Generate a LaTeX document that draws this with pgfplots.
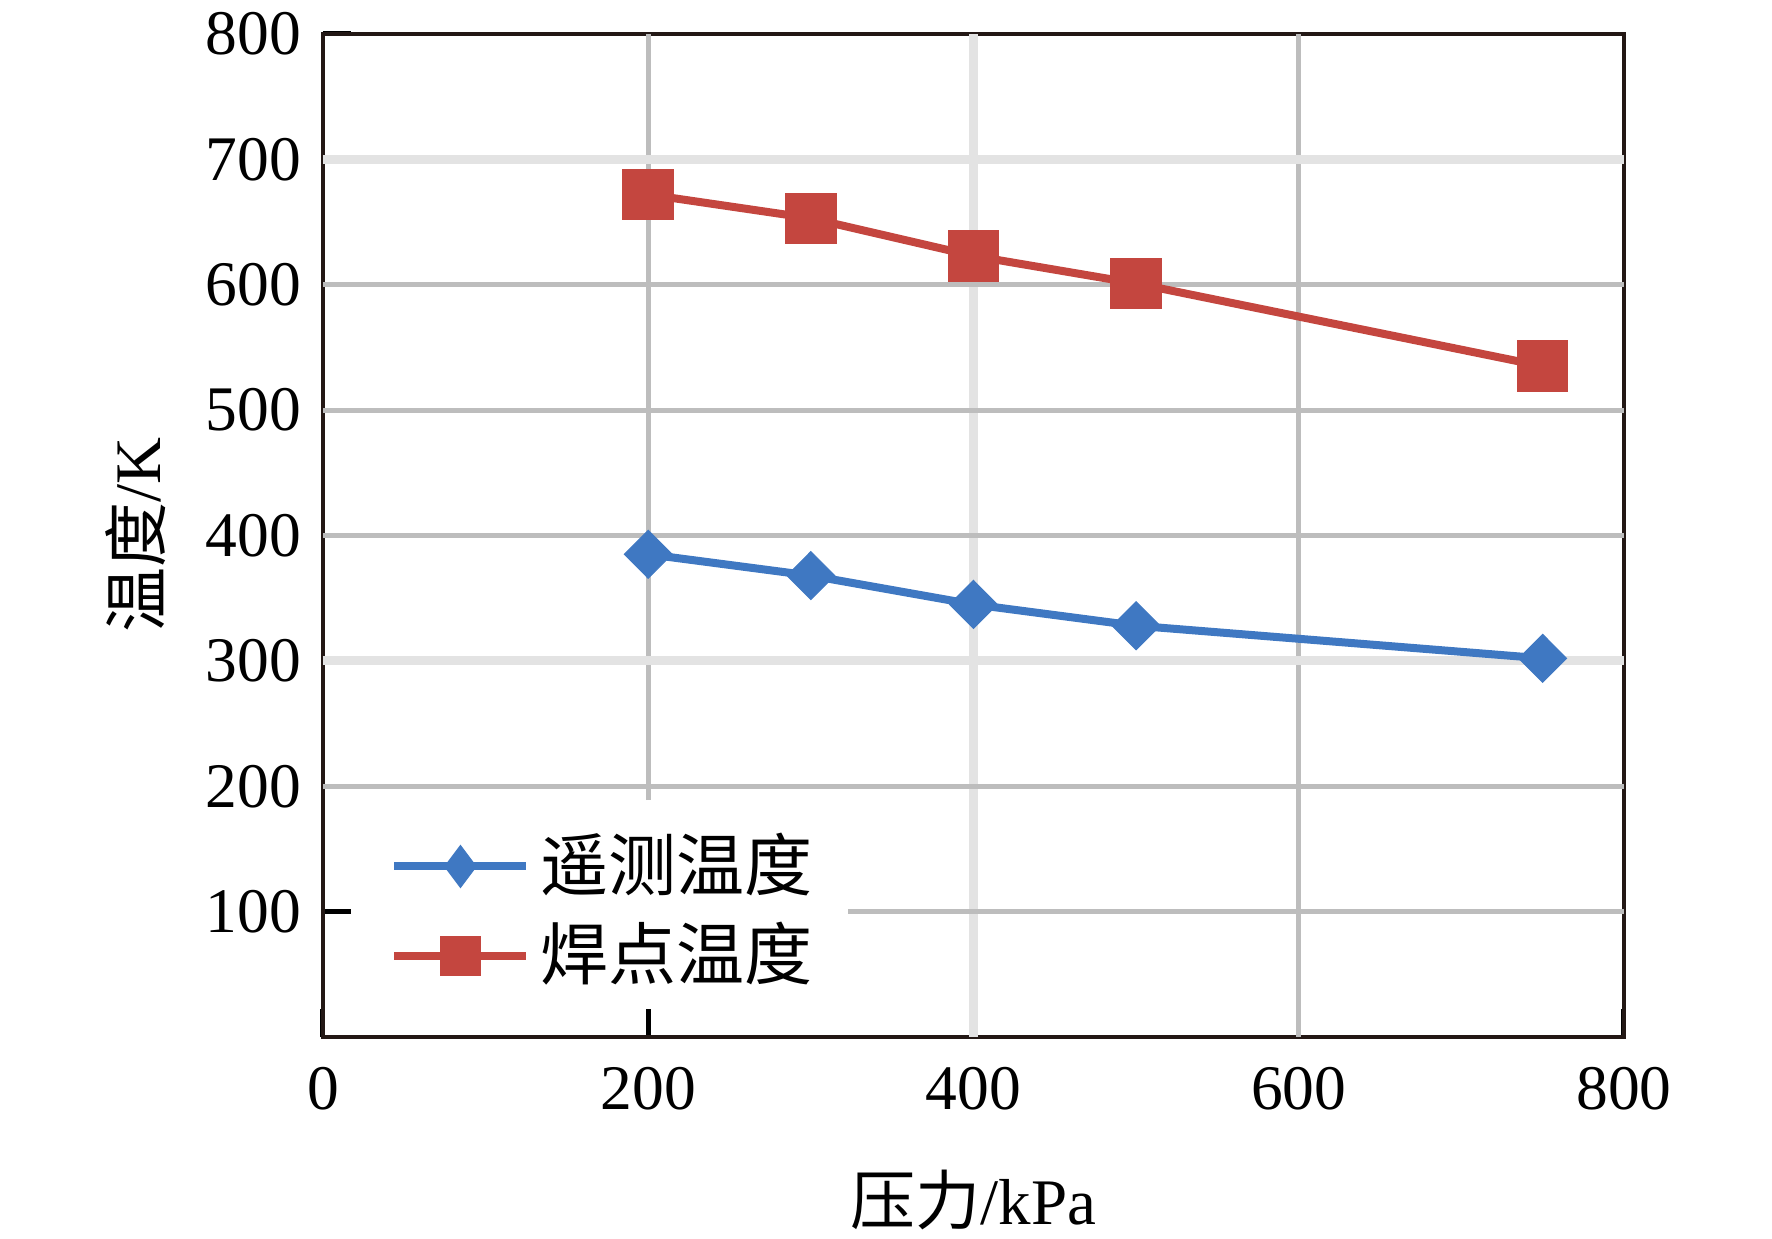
\documentclass[border=0pt]{standalone}
\usepackage{pgfplots}
\pgfplotsset{compat=1.18}
\usepackage{fontspec}
\setmainfont{Liberation Serif}
\newfontfamily\cjk{Noto Sans CJK SC}
\definecolor{myred}{HTML}{C4463F}
\definecolor{myblue}{HTML}{3F78C2}
\definecolor{gridgray}{HTML}{BDBDBD}
\definecolor{gridlight}{HTML}{E3E3E3}
\definecolor{axcol}{HTML}{231815}
\begin{document}
\fontsize{12.7}{15}\selectfont
\begin{tikzpicture}
\begin{axis}[
  scale only axis, width=260.2pt, height=200.6pt,
  at={(0,0)}, anchor=south west,
  xmin=0,xmax=800,ymin=0,ymax=800,
  xtick={0,200,400,600,800},
  ytick={100,200,300,400,500,600,700,800},
  tick pos=left, tick align=inside,
  major tick length=5.6pt,
  tick style={black, line width=1pt},
  axis line style={draw=axcol, line width=0.8pt},
  /pgf/number format/assume math mode=true,
  ticklabel style={font=\fontsize{12.7}{15}\selectfont},
  xticklabel style={yshift=-1.6pt},
  xlabel={{\cjk 压力}/kPa},
  ylabel={{\cjk 温度}/K},
  label style={font=\fontsize{13}{15}\selectfont},
  xlabel style={at={(axis description cs:0.5,-0.1625)}, anchor=center},
  ylabel style={at={(axis description cs:-0.1437,0.5)}, anchor=center},
  legend style={at={(0,0)}, anchor=south west, fill=none, draw=none,
    inner xsep=13.3pt, inner ysep=7.3pt, row sep=0.5pt,
    font=\cjk\fontsize{13.6}{15}\selectfont,
    /tikz/every even column/.append style={column sep=9pt}},
  legend cell align=left,
]
% grid lines
\draw[gridgray, line width=1pt] (axis cs:200,189) -- (axis cs:200,800);
\draw[gridlight, line width=1.8pt] (axis cs:400,0) -- (axis cs:400,800);
\draw[gridgray, line width=1pt] (axis cs:600,0) -- (axis cs:600,800);
\draw[gridgray, line width=1pt] (axis cs:323,100) -- (axis cs:800,100);
\draw[gridgray, line width=1pt] (axis cs:0,200) -- (axis cs:800,200);
\draw[gridlight, line width=1.8pt] (axis cs:0,300) -- (axis cs:800,300);
\draw[gridgray, line width=1pt] (axis cs:0,400) -- (axis cs:800,400);
\draw[gridgray, line width=1pt] (axis cs:0,500) -- (axis cs:800,500);
\draw[gridgray, line width=1pt] (axis cs:0,600) -- (axis cs:800,600);
\draw[gridlight, line width=1.8pt] (axis cs:0,700) -- (axis cs:800,700);
\addplot[myblue, line width=1.6pt, mark=diamond*, mark size=4.8pt,
  mark options={solid, xscale=1.33, fill=myblue, draw=myblue, line width=0.2pt},
  legend image code/.code={\draw[mark repeat=2,mark phase=2,mark size=4.2pt,
    mark options={solid,fill=myblue,draw=myblue,line width=0.2pt}]
    plot coordinates {(0pt,0pt)(13.2pt,0pt)(26.4pt,0pt)};}]
  coordinates {(200,385)(300,368)(400,345)(500,328)(750,302)};
\addlegendentry{遥测温度}
\addplot[myred, line width=1.6pt, mark=square*, mark size=5pt,
  mark options={solid, fill=myred, draw=myred, line width=0.3pt},
  legend image code/.code={\draw[mark repeat=2,mark phase=2,mark size=3.9pt,
    mark options={solid,fill=myred,draw=myred,line width=0.3pt}]
    plot coordinates {(0pt,0pt)(13.2pt,0pt)(26.4pt,0pt)};}]
  coordinates {(200,672)(300,653)(400,623)(500,601)(750,535)};
\addlegendentry{焊点温度}
\end{axis}
\pgfresetboundingbox
\path[use as bounding box] (-64.6pt,-40.4pt) rectangle (289.8pt,207.4pt);
\end{tikzpicture}
\end{document}
